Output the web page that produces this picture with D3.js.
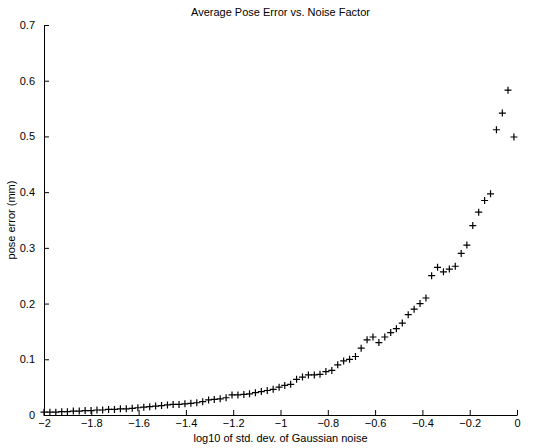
<!DOCTYPE html>
<html><head><meta charset="utf-8">
<script src="https://cdn.jsdelivr.net/npm/d3@7"></script>
<style>body{margin:0;background:#fff}svg{display:block}text{font-family:"Liberation Sans",Arial,sans-serif;fill:#000}</style>
</head><body>
<svg id="c" width="547" height="448"></svg>
<script>
const xValues = [
-2.000,-1.975,-1.950,-1.925,-1.901,-1.876,-1.851,-1.826,-1.801,-1.776,
-1.752,-1.727,-1.702,-1.677,-1.652,-1.627,-1.603,-1.578,-1.553,-1.528,
-1.503,-1.478,-1.454,-1.429,-1.404,-1.379,-1.354,-1.329,-1.304,-1.280,
-1.255,-1.230,-1.205,-1.180,-1.155,-1.131,-1.106,-1.081,-1.056,-1.031,
-1.006,-0.982,-0.957,-0.932,-0.907,-0.882,-0.857,-0.833,-0.808,-0.783,
-0.758,-0.733,-0.708,-0.683,-0.659,-0.634,-0.609,-0.584,-0.559,-0.534,
-0.510,-0.485,-0.460,-0.435,-0.410,-0.385,-0.361,-0.336,-0.311,-0.286,
-0.261,-0.236,-0.212,-0.187,-0.162,-0.137,-0.112,-0.087,-0.062,-0.038,
-0.013];
const poseError = [
0.005,0.005,0.005,0.006,0.006,0.007,0.007,0.008,0.008,0.009,
0.009,0.010,0.010,0.011,0.011,0.012,0.013,0.014,0.015,0.016,
0.017,0.018,0.019,0.019,0.020,0.021,0.022,0.024,0.027,0.028,
0.029,0.031,0.036,0.036,0.037,0.038,0.040,0.042,0.044,0.046,
0.050,0.053,0.055,0.064,0.068,0.072,0.072,0.073,0.078,0.080,
0.090,0.097,0.100,0.105,0.120,0.135,0.140,0.130,0.140,0.148,
0.155,0.165,0.180,0.190,0.200,0.210,0.250,0.265,0.257,0.262,
0.267,0.290,0.305,0.340,0.364,0.385,0.397,0.512,0.542,0.583,
0.499];
const xTicks = [-2,-1.8,-1.6,-1.4,-1.2,-1,-0.8,-0.6,-0.4,-0.2,0];
const yTicks = [0,0.1,0.2,0.3,0.4,0.5,0.6,0.7];
const title = "Average Pose Error vs. Noise Factor";
const xLabel = "log10 of std. dev. of Gaussian noise";
const yLabel = "pose error (mm)";

const svg = d3.select("#c");
const L = 44, R = 517, T = 25, B = 415;
const x = d3.scaleLinear().domain([-2, 0]).range([L, R]);
const y = d3.scaleLinear().domain([0, 0.7]).range([B, T]);
const fmt = d => (d < 0 ? "\u2212" : "") + String(Math.abs(d));

const xa = svg.append("g").attr("transform", `translate(0,${B})`)
  .call(d3.axisBottom(x).tickValues(xTicks).tickSizeInner(-5).tickSizeOuter(0).tickPadding(9).tickFormat(fmt));
const ya = svg.append("g").attr("transform", `translate(${L},0)`)
  .call(d3.axisLeft(y).tickValues(yTicks).tickSizeInner(-5).tickSizeOuter(0).tickPadding(9).tickFormat(d => String(d)));
[xa, ya].forEach(a => {
  a.selectAll("path").attr("stroke", "#000").attr("stroke-width", 1);
  a.selectAll("line").attr("stroke", "#000").attr("stroke-width", 1);
  a.selectAll("text").style("font-size", "11px").attr("fill", "#000");
});
xa.selectAll("text").attr("dy", "0.71em").attr("y", 4);

const s = 3.5;
const pts = svg.append("g").attr("stroke", "#000").attr("stroke-width", 1.2).attr("fill", "none");
pts.selectAll("path").data(xValues.map((v, i) => [v, poseError[i]])).join("path")
  .attr("d", d => { const px = x(d[0]), py = y(d[1]);
    return `M${px - s},${py}H${px + s}M${px},${py - s}V${py + s}`; });

svg.append("text").attr("x", (L + R) / 2).attr("y", 16).attr("text-anchor", "middle").style("font-size", "11px").text(title);
svg.append("text").attr("x", (L + R) / 2).attr("y", 442).attr("text-anchor", "middle").style("font-size", "11px").text(xLabel);
svg.append("text").attr("transform", `translate(15,${(T + B) / 2}) rotate(-90)`).attr("text-anchor", "middle").style("font-size", "11px").text(yLabel);
</script>
</body></html>
